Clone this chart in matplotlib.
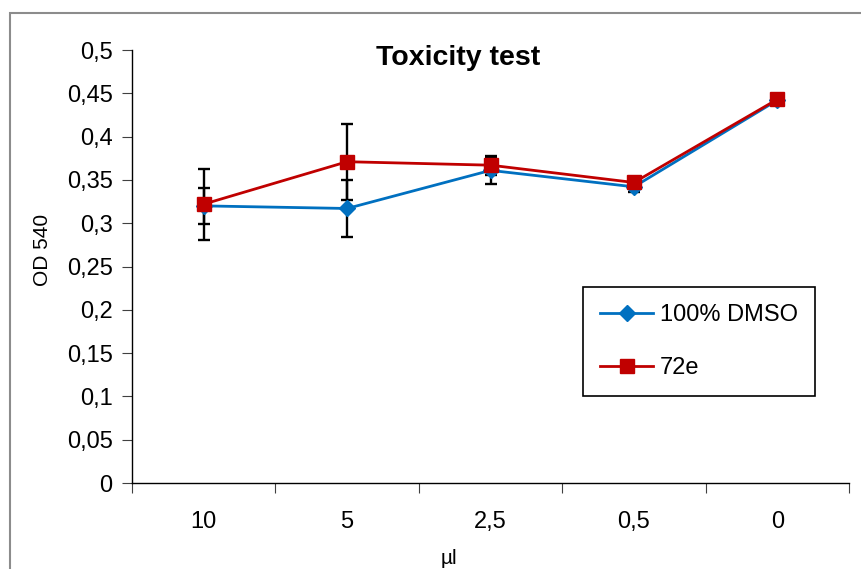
import matplotlib
matplotlib.use("Agg")
import matplotlib.pyplot as plt
from matplotlib.patches import Rectangle
from matplotlib.ticker import FixedLocator, NullFormatter, FixedFormatter

plt.rcParams['font.family'] = ['Liberation Sans', 'DejaVu Sans']

categories = ['10', '5', '2,5', '0,5', '0']
dmso_mean = [0.320, 0.317, 0.361, 0.342, 0.442]
dmso_err = [0.021, 0.033, 0.016, 0.006, 0.0]
e72_mean = [0.322, 0.371, 0.367, 0.347, 0.443]
e72_err = [0.041, 0.044, 0.011, 0.006, 0.0]
y_ticks = [0, 0.05, 0.1, 0.15, 0.2, 0.25, 0.3, 0.35, 0.4, 0.45, 0.5]
y_tick_labels = ['0', '0,05', '0,1', '0,15', '0,2', '0,25', '0,3', '0,35', '0,4', '0,45', '0,5']

W, H = 861, 569
fig = plt.figure(figsize=(W / 100, H / 100), dpi=100)

# outer chart-area frame
fig.patches.append(Rectangle((10 / W, -0.1), 2.0, 1 - 13 / H + 0.1,
                             transform=fig.transFigure, fill=False,
                             edgecolor='#8c8c8c', linewidth=1.5))

ax = fig.add_axes([132 / W, 1 - 483 / H, (849 - 132) / W, (483 - 50) / H])
x = [i + 0.5 for i in range(len(categories))]

blue = '#0070C0'
red = '#C00000'

ax.errorbar(x, dmso_mean, yerr=dmso_err, fmt='none', ecolor='black',
            elinewidth=1.7, capsize=4.2, capthick=1.7, zorder=2)
ax.errorbar(x, e72_mean, yerr=e72_err, fmt='none', ecolor='black',
            elinewidth=1.7, capsize=4.2, capthick=1.7, zorder=2)
ax.plot(x, dmso_mean, color=blue, lw=2.0, marker='D', markersize=8,
        label='100% DMSO', zorder=3)
ax.plot(x, e72_mean, color=red, lw=2.0, marker='s', markersize=10,
        label='72e', zorder=4)

ax.set_xlim(0, 5)
ax.set_ylim(0, 0.5)
ax.xaxis.set_major_locator(FixedLocator([0, 1, 2, 3, 4, 5]))
ax.xaxis.set_major_formatter(NullFormatter())
ax.xaxis.set_minor_locator(FixedLocator(x))
ax.xaxis.set_minor_formatter(FixedFormatter(categories))
ax.tick_params(axis='x', which='major', direction='out', length=7, width=0.8, color='#404040')
ax.tick_params(axis='x', which='minor', length=0, pad=20, labelsize=17)
ax.set_yticks(y_ticks)
ax.set_yticklabels(y_tick_labels)
ax.tick_params(axis='y', direction='out', length=7, width=0.8, color='#404040',
               labelsize=17, pad=7)

for s in ('top', 'right'):
    ax.spines[s].set_visible(False)
for s in ('left', 'bottom'):
    ax.spines[s].set_linewidth(1.0)
    ax.spines[s].set_color('black')

fig.text(458 / W, 1 - 58 / H, 'Toxicity test', ha='center', va='center',
         fontsize=20.5, fontweight='bold')
fig.text(42 / W, 1 - 250 / H, 'OD 540', rotation=90, ha='center', va='center',
         fontsize=15)
fig.text(449 / W, 1 - 559 / H, 'µl', ha='center', va='center', fontsize=15)

leg = ax.legend(loc='upper left', bbox_to_anchor=(583 / W, 1 - 287 / H),
                bbox_transform=fig.transFigure, fontsize=17, frameon=True,
                fancybox=False, edgecolor='black', framealpha=1,
                borderpad=0.72, labelspacing=1.32, handlelength=2.25,
                handletextpad=0.3, borderaxespad=0)
leg.get_frame().set_linewidth(1.2)

fig.savefig('out.png', dpi=100)
